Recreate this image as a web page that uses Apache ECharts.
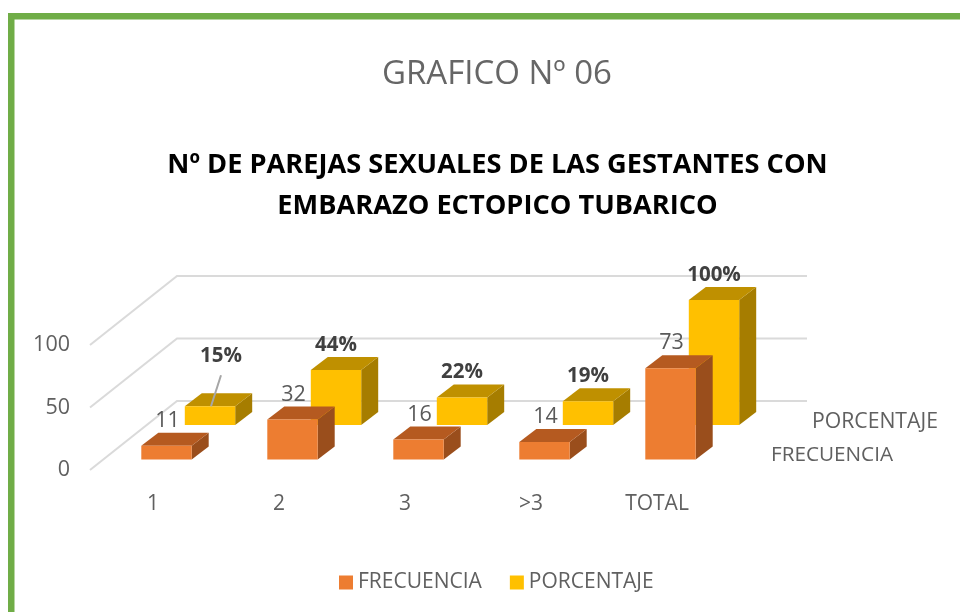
<!DOCTYPE html>
<html>
<head>
<meta charset="utf-8">
<style>html,body{margin:0;padding:0;background:#fff}#c{width:960px;height:612px}</style>
<script src="https://cdn.jsdelivr.net/npm/echarts@6/dist/echarts.min.js"></script>
</head>
<body>
<div id="c"></div>
<script>
const categories = ['1', '2', '3', '>3', 'TOTAL'];
const frecuencia = [11, 32, 16, 14, 73];
const porcentaje = [15, 44, 22, 19, 100];
const wallTicks = [0, 50, 100];
const seriesNames = ['FRECUENCIA', 'PORCENTAJE'];
const chartTitle = 'GRAFICO Nº 06';
const chartSubtitle = 'Nº DE PAREJAS SEXUALES DE LAS GESTANTES CON\nEMBARAZO ECTOPICO TUBARICO';

const FONT = '"Open Sans", "Noto Sans", sans-serif';
const TEXT = '#606060';
const DEPTH = {x: 17, y: -13};
const ROOM = {x: 87, y: -69, right: 807};

function barRender(opts) {
  return function (params, api) {
    const i = api.value(0), v = api.value(1);
    const base = api.coord([i, 0]), top = api.coord([i, v]);
    const w = api.size([1, 0])[0] * 0.4;
    const xl = base[0] + opts.dx - w / 2, xr = xl + w;
    const yb = base[1] + opts.dy, yt = top[1] + opts.dy;
    const dx = DEPTH.x, dy = DEPTH.y;
    const children = [
      {type: 'polygon', shape: {points: [[xr, yb], [xr + dx, yb + dy], [xr + dx, yt + dy], [xr, yt]]}, style: {fill: opts.side}},
      {type: 'polygon', shape: {points: [[xl, yt], [xr, yt], [xr + dx, yt + dy], [xl + dx, yt + dy]]}, style: {fill: opts.top}},
      {type: 'rect', shape: {x: xl, y: yt, width: w, height: yb - yt}, style: {fill: opts.front}}
    ];
    const moved = opts.moved && opts.moved.index === params.dataIndex ? opts.moved : null;
    const lx = xl + w / 2 + opts.labelDx + (moved ? moved.dx : 0);
    const ly = yt - 25 + (moved ? moved.dy : 0);
    if (moved) {
      children.push({type: 'line', shape: {x1: lx, y1: ly + 19, x2: xl + w / 2 + 1, y2: yt}, style: {stroke: '#A6A6A6', lineWidth: 2}});
    }
    children.push({type: 'text', style: {
      text: opts.format(v), x: lx, y: ly, align: 'center', verticalAlign: 'middle',
      fontFamily: FONT, fontSize: opts.labelSize, fontWeight: opts.labelWeight, fill: opts.labelColor
    }});
    return {type: 'group', children: children};
  };
}

function wallRender(params, api) {
  const v = api.value(0);
  const yPix = api.coord([0, v])[1];
  const x0 = params.coordSys.x;
  const bx = x0 + ROOM.x, by = yPix + ROOM.y;
  return {type: 'polyline', shape: {points: [[x0, yPix], [bx, by], [ROOM.right, by]]},
    style: {stroke: '#DADADA', lineWidth: 2, fill: null}};
}

const chart = echarts.init(document.getElementById('c'), null, {renderer: 'canvas'});
chart.setOption({
  animation: false,
  backgroundColor: '#ffffff',
  title: [
    {text: chartTitle, left: 492, top: 53, textAlign: 'center',
      textStyle: {fontFamily: FONT, fontSize: 33, fontWeight: 'normal', color: '#666666'}},
    {text: chartSubtitle, left: 492.5, top: 140, textAlign: 'center',
      textStyle: {fontFamily: FONT, fontSize: 27.2, fontWeight: 'bold', color: '#000000', lineHeight: 41}}
  ],
  grid: {left: 90, top: 345, width: 630, height: 125, containLabel: false},
  xAxis: {type: 'category', data: categories,
    axisLine: {show: false}, axisTick: {show: false}, splitLine: {show: false},
    axisLabel: {margin: 24, color: TEXT, fontFamily: FONT, fontSize: 21, interval: 0}},
  yAxis: {type: 'value', min: 0, max: 100, interval: 50,
    axisLine: {show: false}, axisTick: {show: false}, splitLine: {show: false},
    axisLabel: {margin: 20, color: TEXT, fontFamily: FONT, fontSize: 21.5, padding: [2, 0, 0, 0]}},
  legend: {data: seriesNames, left: 334, top: 567, icon: 'rect', itemWidth: 14, itemHeight: 14, itemGap: 28,
    textStyle: {color: TEXT, fontFamily: FONT, fontSize: 21}},
  graphic: [
    {type: 'rect', silent: true, z: 10, shape: {x: 8, y: 13, width: 952, height: 6.5}, style: {fill: '#70AD47'}},
    {type: 'rect', silent: true, z: 10, shape: {x: 8, y: 13, width: 6.5, height: 599}, style: {fill: '#70AD47'}},
    {type: 'text', silent: true, z: 10, style: {text: seriesNames[1], x: 812, y: 422, verticalAlign: 'middle', fill: TEXT, fontFamily: FONT, fontSize: 21.2}},
    {type: 'text', silent: true, z: 10, style: {text: seriesNames[0], x: 771, y: 455, verticalAlign: 'middle', fill: TEXT, fontFamily: FONT, fontSize: 20.7}}
  ],
  series: [
    {type: 'custom', coordinateSystem: 'cartesian2d', silent: true, z: 1, clip: false,
      data: wallTicks.map(function (t) { return [t]; }), encode: {y: 0}, renderItem: wallRender},
    {type: 'custom', name: seriesNames[1], coordinateSystem: 'cartesian2d', z: 2, clip: false,
      itemStyle: {color: '#FFC000'},
      data: porcentaje.map(function (v, i) { return [i, v]; }), encode: {x: 0, y: 1},
      renderItem: barRender({dx: 57, dy: -45, front: '#FFC000', top: '#BF9000', side: '#A67D00',
        labelDx: 0, labelSize: 20.5, labelWeight: 'bold', labelColor: '#404040',
        format: function (v) { return v + '%'; }, moved: {index: 0, dx: 11, dy: -25}})},
    {type: 'custom', name: seriesNames[0], coordinateSystem: 'cartesian2d', z: 3, clip: false,
      itemStyle: {color: '#ED7D31'},
      data: frecuencia.map(function (v, i) { return [i, v]; }), encode: {x: 0, y: 1},
      renderItem: barRender({dx: 13.5, dy: -10.5, front: '#ED7D31', top: '#B55A20', side: '#9A4E1C',
        labelDx: 1, labelSize: 21.5, labelWeight: 'normal', labelColor: '#595959',
        format: function (v) { return String(v); }})}
  ]
});
</script>
</body>
</html>
